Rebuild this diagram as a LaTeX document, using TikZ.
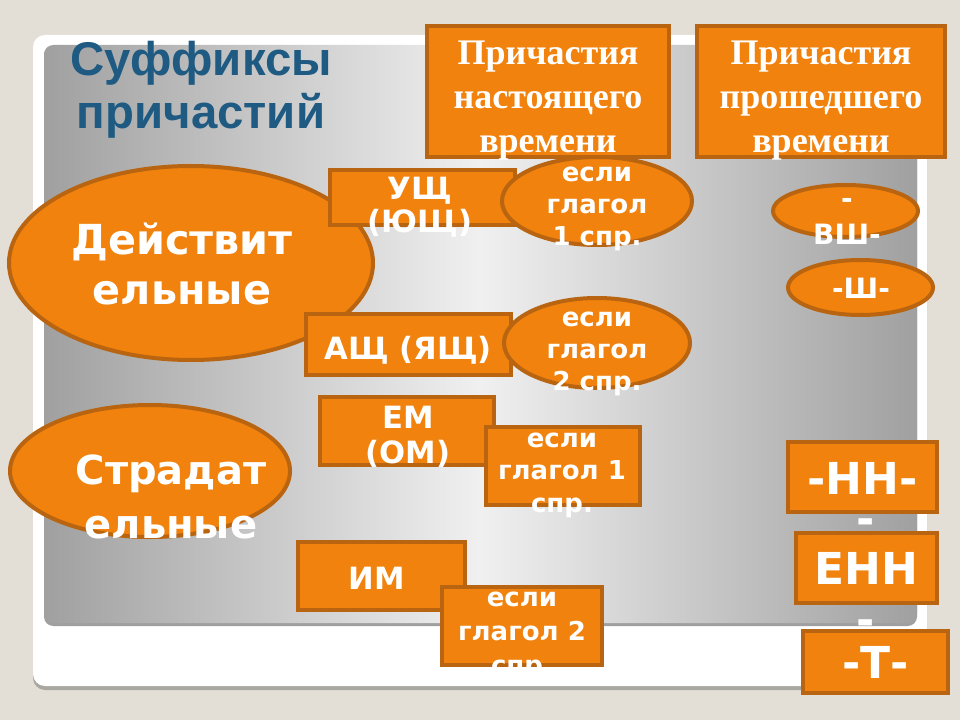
\documentclass[tikz,border=0pt]{standalone}
\usepackage{fontspec}
\setmainfont{DejaVu Sans}
\newfontfamily\serifbf{Liberation Serif}
\newfontfamily\titlefont{Liberation Sans}
\usetikzlibrary{shapes.geometric}
\definecolor{bgbeige}{RGB}{228,223,214}
\definecolor{orfill}{RGB}{240,130,13}
\definecolor{ordraw}{RGB}{185,100,16}
\definecolor{titleblue}{RGB}{30,90,130}
\definecolor{panelgray}{RGB}{160,160,160}
\definecolor{panellight}{RGB}{240,240,240}
\definecolor{cardshadow}{RGB}{168,168,160}
\tikzset{
  obox/.style={draw=ordraw, fill=orfill, line width=3pt, rectangle, inner sep=0pt, outer sep=0pt},
  oell/.style={draw=ordraw, fill=orfill, line width=3pt, ellipse, inner sep=0pt, outer sep=0pt},
  sz/.style 2 args={minimum width=#1*0.75pt, minimum height=#2*0.75pt},
  wt/.style 2 args={text=white, align=center, inner sep=0pt, font=\bfseries\fontsize{#1}{#2}\selectfont},
  st/.style={text=white, align=center, inner sep=0pt, font=\serifbf\bfseries\fontsize{27}{33}\selectfont},
}
\begin{document}
\begin{tikzpicture}[x=0.75pt,y=-0.75pt]
\useasboundingbox (0,0) rectangle (960,720);
% background
\fill[bgbeige] (0,0) rectangle (960,720);
\fill[cardshadow, rounded corners=9pt] (33,39) rectangle (927,690);
\fill[white, rounded corners=9pt] (33,35) rectangle (927,686);
\fill[gray!75, rounded corners=7pt] (44,47) rectangle (917,626);
\shade[rounded corners=7pt, left color=panelgray, right color=panelgray, middle color=panellight] (44,45) rectangle (917,623);
% title
\node[text=titleblue, align=center, inner sep=0pt, font=\titlefont\bfseries\fontsize{35.5}{40}\selectfont] (title) at (201,90) {Суффиксы\\причастий};
% top headers
\node[obox, sz={242}{131}] (presbox) at (548,91.5) {};
\node[st] (prestxt) at (548,101) {Причастия\\настоящего\\времени};
\node[obox, sz={248}{131}] (pastbox) at (821,91.5) {};
\node[st] (pasttxt) at (821,101) {Причастия\\прошедшего\\времени};
% active
\node[oell, sz={364}{194}] (actell) at (191,263) {};
\node[wt={31}{37.5}] (acttxt) at (182,264) {Действит\\ельные};
\node[obox, sz={185}{55}] (ushbox) at (422.5,197.5) {};
\node[wt={23}{25}] (ushtxt) at (420,207) {УЩ\\(ЮЩ)};
\node[obox, sz={205}{61}] (ashbox) at (408.5,344.5) {};
\node[wt={23}{25}] (ashtxt) at (408,350) {АЩ (ЯЩ)};
\node[oell, sz={190}{88}] (if1ell) at (597,201) {};
\node[wt={19.5}{24}] (if1txt) at (597,209) {если\\глагол\\1 спр.};
\node[oell, sz={186}{90}] (if2ell) at (597,343) {};
\node[wt={19.5}{24}] (if2txt) at (597,354) {если\\глагол\\2 спр.};
% passive
\node[oell, sz={280}{132}] (pasell) at (150,471) {};
\node[wt={30}{40.5}] (pastxt2) at (171,497) {Страдат\\ельные};
\node[obox, sz={174}{68}] (embox) at (406.5,431) {};
\node[wt={23}{26}] (emtxt) at (408,437) {ЕМ\\(ОМ)};
\node[obox, sz={154}{78}] (if3box) at (563,466) {};
\node[wt={19.5}{24.4}] (if3txt) at (562,475) {если\\глагол 1\\спр.};
\node[obox, sz={167}{68}] (imbox) at (381.5,576) {};
\node[wt={23}{25}] (imtxt) at (377,578) {ИМ};
\node[obox, sz={160}{78}] (if4box) at (522,626) {};
\node[wt={19.5}{25.5}] (if4txt) at (522,636) {если\\глагол 2\\спр.};
% past suffixes
\node[oell, sz={145}{52}] (vshell) at (845.5,211) {};
\node[wt={21}{27}] (vshtxt) at (847,221) {-\\ВШ-};
\node[oell, sz={145}{55}] (shell) at (860.5,287.5) {};
\node[wt={21}{27}] (shtxt) at (861,288) {-Ш-};
\node[obox, sz={149}{70}] (nnbox) at (862.5,477) {};
\node[wt={33}{38}] (nntxt) at (862.5,478) {-НН-};
\node[obox, sz={141}{70}] (ennbox) at (866.5,568) {};
\node[wt={33}{38}] (enntxt) at (866,577) {-\\ЕНН\\-};
\node[obox, sz={145}{62}] (tbox) at (875.5,662) {};
\node[wt={33}{38}] (ttxt) at (875.5,662) {-Т-};
\end{tikzpicture}
\end{document}
